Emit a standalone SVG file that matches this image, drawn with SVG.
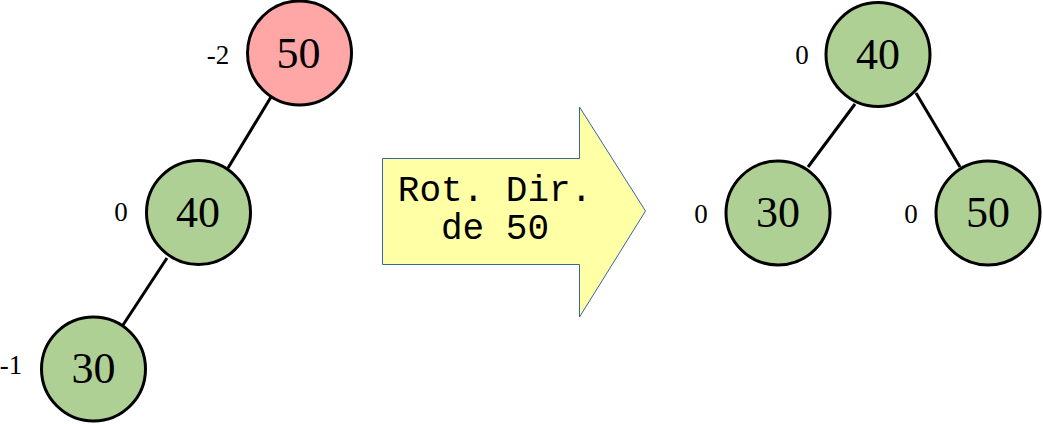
<svg xmlns="http://www.w3.org/2000/svg" width="1043" height="424" viewBox="0 0 1043 424">
<style>
.n{stroke:#000;stroke-width:3}
.g{fill:#afd095}
.r{fill:#ffa6a6}
.t{font-family:"Liberation Serif",serif;font-size:44px;text-anchor:middle;fill:#000}
.b{font-family:"Liberation Serif",serif;font-size:27px;text-anchor:middle;fill:#000}
.e{stroke:#000;stroke-width:3;fill:none}
.m{font-family:"Liberation Mono",monospace;font-size:36px;text-anchor:middle;fill:#000}
</style>
<rect width="1043" height="424" fill="#fff"/>
<g id="connectors">
<line class="e" x1="271" y1="97" x2="228" y2="168"/>
<line class="e" x1="167" y1="258" x2="123" y2="325"/>
<line class="e" x1="855" y1="104" x2="808" y2="167"/>
<line class="e" x1="916" y1="93" x2="960" y2="167"/>
</g>
<g id="arrow">
<polygon points="382.5,158.5 579.5,158.5 579.5,107 645.5,211 579.5,317 579.5,264.5 382.5,264.5" fill="#ffffa6" stroke="#3465a4" stroke-width="1"/>
<text class="m" x="495" y="201">Rot. Dir.</text>
<text class="m" x="495" y="239">de 50</text>
</g>
<g id="L50">
<circle class="n r" cx="299.5" cy="53" r="52"/>
<text class="t" x="298.5" y="68">50</text>
<text class="b" x="218" y="64">-2</text>
</g>
<g id="L40">
<circle class="n g" cx="198.5" cy="212.5" r="52"/>
<text class="t" x="198" y="227">40</text>
<text class="b" x="121" y="221">0</text>
</g>
<g id="L30">
<circle class="n g" cx="93.5" cy="369" r="52"/>
<text class="t" x="93.5" y="383">30</text>
<text class="b" x="11" y="374">-1</text>
</g>
<g id="R40">
<circle class="n g" cx="878" cy="54.5" r="52"/>
<text class="t" x="878" y="68.5">40</text>
<text class="b" x="802" y="64">0</text>
</g>
<g id="R30">
<circle class="n g" cx="778" cy="213" r="52"/>
<text class="t" x="778" y="227">30</text>
<text class="b" x="701" y="223">0</text>
</g>
<g id="R50">
<circle class="n g" cx="988" cy="213" r="52"/>
<text class="t" x="988" y="227">50</text>
<text class="b" x="911" y="223">0</text>
</g>
</svg>
